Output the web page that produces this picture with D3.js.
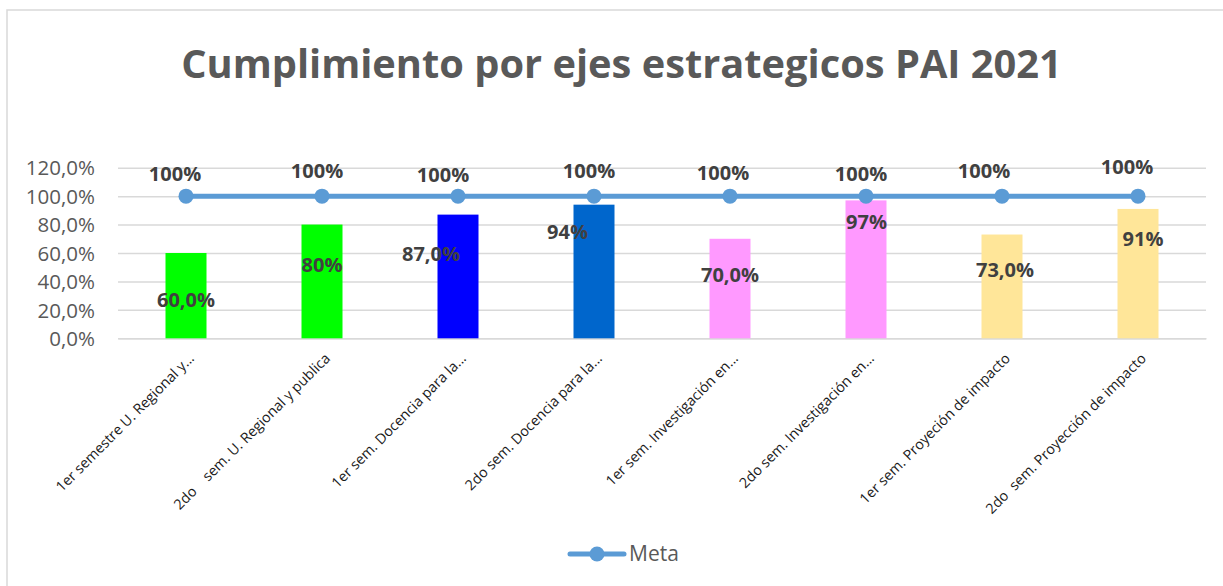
<!DOCTYPE html>
<html>
<head>
<meta charset="utf-8">
<script src="https://cdn.jsdelivr.net/npm/d3@7/dist/d3.min.js"></script>
<style>
  html, body { margin: 0; padding: 0; background: #fff; }
  svg { display: block; }
  text { white-space: pre; }
</style>
</head>
<body>
<svg id="chart" width="1223" height="586"></svg>
<script>
// ---------- data ----------
const categories = [
  "1er semestre U. Regional y...",
  "2do    sem. U. Regional y publica",
  "1er sem. Docencia para la...",
  "2do sem. Docencia para la...",
  "1er sem. Investigación en...",
  "2do sem. Investigación en...",
  "1er sem. Proyeción de impacto",
  "2do  sem. Proyección de impacto"
];
const cumplimiento = [60, 80, 87, 94, 70, 97, 73, 91];
const cumplimientoLabels = ["60,0%", "80%", "87,0%", "94%", "70,0%", "97%", "73,0%", "91%"];
const meta = [100, 100, 100, 100, 100, 100, 100, 100];
const metaLabels = ["100%", "100%", "100%", "100%", "100%", "100%", "100%", "100%"];
const yTicks = [0, 20, 40, 60, 80, 100, 120];
const barColors = ["#00FF00", "#00FF00", "#0000FF", "#0066CC", "#FF99FF", "#FF99FF", "#FFE699", "#FFE699"];
const title = "Cumplimiento por ejes estrategicos PAI 2021";
const legendLabel = "Meta";

// label placement (manual placement as in the original)
const barLabelAt = [27, 51.4, 59.2, 74.8, 44.4, 81.8, 47.9, 69.7];   // in value units
const barLabelDx = [0, 0, -27, -26.5, 0, 0.5, 3, 5];
const metaLabelDx = [-11, -5, -15, -5, -7, -5, -18, -11];
const metaLabelDy = [-22.5, -24.8, -21.5, -24.8, -23.5, -22.5, -24.8, -28.8];

// ---------- layout ----------
const svg = d3.select("#chart");
const W = 1223, H = 586;
const plot = { left: 118, right: 1206, top: 167.7, bottom: 338.3 };

const locale = d3.formatLocale({ decimal: ",", thousands: ".", grouping: [3], currency: ["", "€"] });
const fmt = locale.format(".1f");

const x = d3.scaleBand().domain(categories).range([plot.left, plot.right]).paddingInner(0).paddingOuter(0);
const y = d3.scaleLinear().domain([0, 120]).range([plot.bottom, plot.top]);

// border
svg.append("rect")
  .attr("x", 7).attr("y", 10).attr("width", W + 20).attr("height", H + 20)
  .attr("fill", "#fff").attr("stroke", "#D9D9D9").attr("stroke-width", 1.5);

// title
const t = svg.append("text")
  .attr("x", 621.5).attr("y", 78)
  .attr("text-anchor", "middle")
  .attr("font-family", "'Open Sans', sans-serif")
  .attr("font-weight", "bold")
  .attr("font-size", 40)
  .attr("fill", "#595959")
  .text(title);
const tl = t.node().getComputedTextLength();
t.attr("font-size", 40 * 881 / tl);

// grid + y axis
const yAxis = d3.axisLeft(y).tickValues(yTicks).tickSize(-(plot.right - plot.left)).tickPadding(23)
  .tickFormat(d => fmt(d) + "%");
const gy = svg.append("g").attr("transform", `translate(${plot.left},0)`).call(yAxis);
gy.select(".domain").remove();
gy.selectAll(".tick line").attr("stroke", "#D9D9D9").attr("stroke-width", 1.5);
gy.selectAll(".tick text")
  .attr("font-family", "'Open Sans', sans-serif")
  .attr("font-size", 20.5)
  .attr("fill", "#595959")
  .attr("dy", "0.35em");

// x axis labels
const xAxis = d3.axisBottom(x).tickSize(0).tickPadding(0);
const gx = svg.append("g").attr("transform", `translate(0,${plot.bottom})`).call(xAxis);
gx.select(".domain").attr("stroke", "#D9D9D9").attr("stroke-width", 1.5);
gx.selectAll(".tick text")
  .attr("font-family", "'Open Sans', sans-serif")
  .attr("font-size", 14.3)
  .attr("fill", "#1a1a1a")
  .attr("text-anchor", "end")
  .attr("y", 0).attr("dy", 0)
  .attr("transform", "translate(9,21) rotate(-45)");

// bars
const bw = 41;
svg.append("g").selectAll("rect")
  .data(cumplimiento)
  .join("rect")
  .attr("x", (d, i) => x(categories[i]) + x.bandwidth() / 2 - bw / 2)
  .attr("y", d => y(d))
  .attr("width", bw)
  .attr("height", d => y(0) - y(d))
  .attr("fill", (d, i) => barColors[i]);

// meta line
const cx = i => x(categories[i]) + x.bandwidth() / 2;
const line = d3.line().x((d, i) => cx(i)).y(d => y(d));
svg.append("path")
  .datum(meta)
  .attr("d", line)
  .attr("fill", "none")
  .attr("stroke", "#5B9BD5")
  .attr("stroke-width", 5)
  .attr("stroke-linecap", "round");
svg.append("g").selectAll("circle")
  .data(meta)
  .join("circle")
  .attr("cx", (d, i) => cx(i))
  .attr("cy", d => y(d))
  .attr("r", 7.5)
  .attr("fill", "#5B9BD5");

// bar labels
svg.append("g").selectAll("text")
  .data(cumplimientoLabels)
  .join("text")
  .attr("x", (d, i) => cx(i) + barLabelDx[i])
  .attr("y", (d, i) => y(barLabelAt[i]))
  .attr("dy", "0.35em")
  .attr("text-anchor", "middle")
  .attr("font-family", "'Open Sans', sans-serif")
  .attr("font-weight", "bold")
  .attr("font-size", 20)
  .attr("fill", "#404040")
  .text(d => d);

// meta labels
svg.append("g").selectAll("text")
  .data(metaLabels)
  .join("text")
  .attr("x", (d, i) => cx(i) + metaLabelDx[i])
  .attr("y", (d, i) => y(meta[i]) + metaLabelDy[i])
  .attr("dy", "0.35em")
  .attr("text-anchor", "middle")
  .attr("font-family", "'Open Sans', sans-serif")
  .attr("font-weight", "bold")
  .attr("font-size", 20)
  .attr("fill", "#404040")
  .text(d => d);

// legend
const lg = svg.append("g");
lg.append("line").attr("x1", 570).attr("x2", 624).attr("y1", 554).attr("y2", 554)
  .attr("stroke", "#5B9BD5").attr("stroke-width", 5).attr("stroke-linecap", "round");
lg.append("circle").attr("cx", 597).attr("cy", 554).attr("r", 7.5).attr("fill", "#5B9BD5");
lg.append("text").attr("x", 629).attr("y", 554).attr("dy", "0.35em")
  .attr("font-family", "'Open Sans', sans-serif")
  .attr("font-size", 21)
  .attr("fill", "#595959")
  .text(legendLabel);
</script>
</body>
</html>
